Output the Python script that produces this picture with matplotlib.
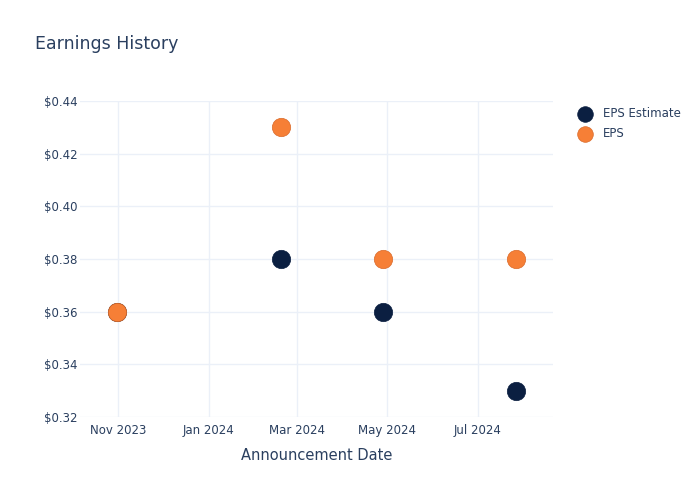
import matplotlib
matplotlib.use("Agg")
import matplotlib.pyplot as plt
from datetime import datetime
from matplotlib.ticker import FuncFormatter

dates = ["2023-10-31", "2024-02-19", "2024-04-28", "2024-07-27"]
eps_estimate = [0.36, 0.38, 0.36, 0.33]
eps_actual = [0.36, 0.43, 0.38, 0.38]
tick_dates = ["2023-11-01", "2024-01-01", "2024-03-01", "2024-05-01", "2024-07-01"]
tick_labels = ["Nov 2023", "Jan 2024", "Mar 2024", "May 2024", "Jul 2024"]
y_ticks = [0.32, 0.34, 0.36, 0.38, 0.40, 0.42, 0.44]

plt.rcParams['font.family'] = ['DejaVu Sans']
text_color = "#2a3f5f"
grid_color = "#ebf0f8"

x = [datetime.strptime(d, "%Y-%m-%d") for d in dates]
xt = [datetime.strptime(d, "%Y-%m-%d") for d in tick_dates]

fig = plt.figure(figsize=(7, 5), dpi=100)
ax = fig.add_axes([80/700, 83/500, 473/700, 316/500])

ax.scatter(x, eps_estimate, s=175, color="#0b1f41", edgecolors="#0b1f41", linewidths=0.5,
           label="EPS Estimate", zorder=3, clip_on=False)
ax.scatter(x, eps_actual, s=175, color="#f67f36", edgecolors="#d96a2a", linewidths=0.5,
           label="EPS", zorder=4, clip_on=False)

ax.set_xlim(datetime(2023, 10, 6), datetime(2024, 8, 21))
ax.set_ylim(0.32, 0.44)
ax.set_xticks(xt)
ax.set_xticklabels(tick_labels)
ax.set_yticks(y_ticks)
ax.yaxis.set_major_formatter(FuncFormatter(lambda v, p: f"${v:.2f}"))

for s in ax.spines.values():
    s.set_visible(False)
ax.grid(True, color=grid_color, linewidth=1)
ax.set_axisbelow(True)
ax.tick_params(axis="both", length=0, labelsize=8.5, colors=text_color)
ax.tick_params(axis="y", pad=2)
ax.tick_params(axis="x", pad=5)

ax.set_xlabel("Announcement Date", fontsize=10.5, color=text_color, labelpad=8)
fig.text(35/700, 1 - 44/500, "Earnings History", fontsize=12.5, color=text_color, va="center", ha="left")

leg = fig.legend(handles=ax.get_legend_handles_labels()[0], labels=["EPS Estimate", "EPS"],
                 loc="upper left", bbox_to_anchor=(566/700, 1 - 96/500), frameon=False,
                 fontsize=8.5, labelcolor=text_color, handletextpad=0.85, labelspacing=0.62,
                 markerscale=0.85, handlelength=1.4)

fig.savefig("out.png", dpi=100)
